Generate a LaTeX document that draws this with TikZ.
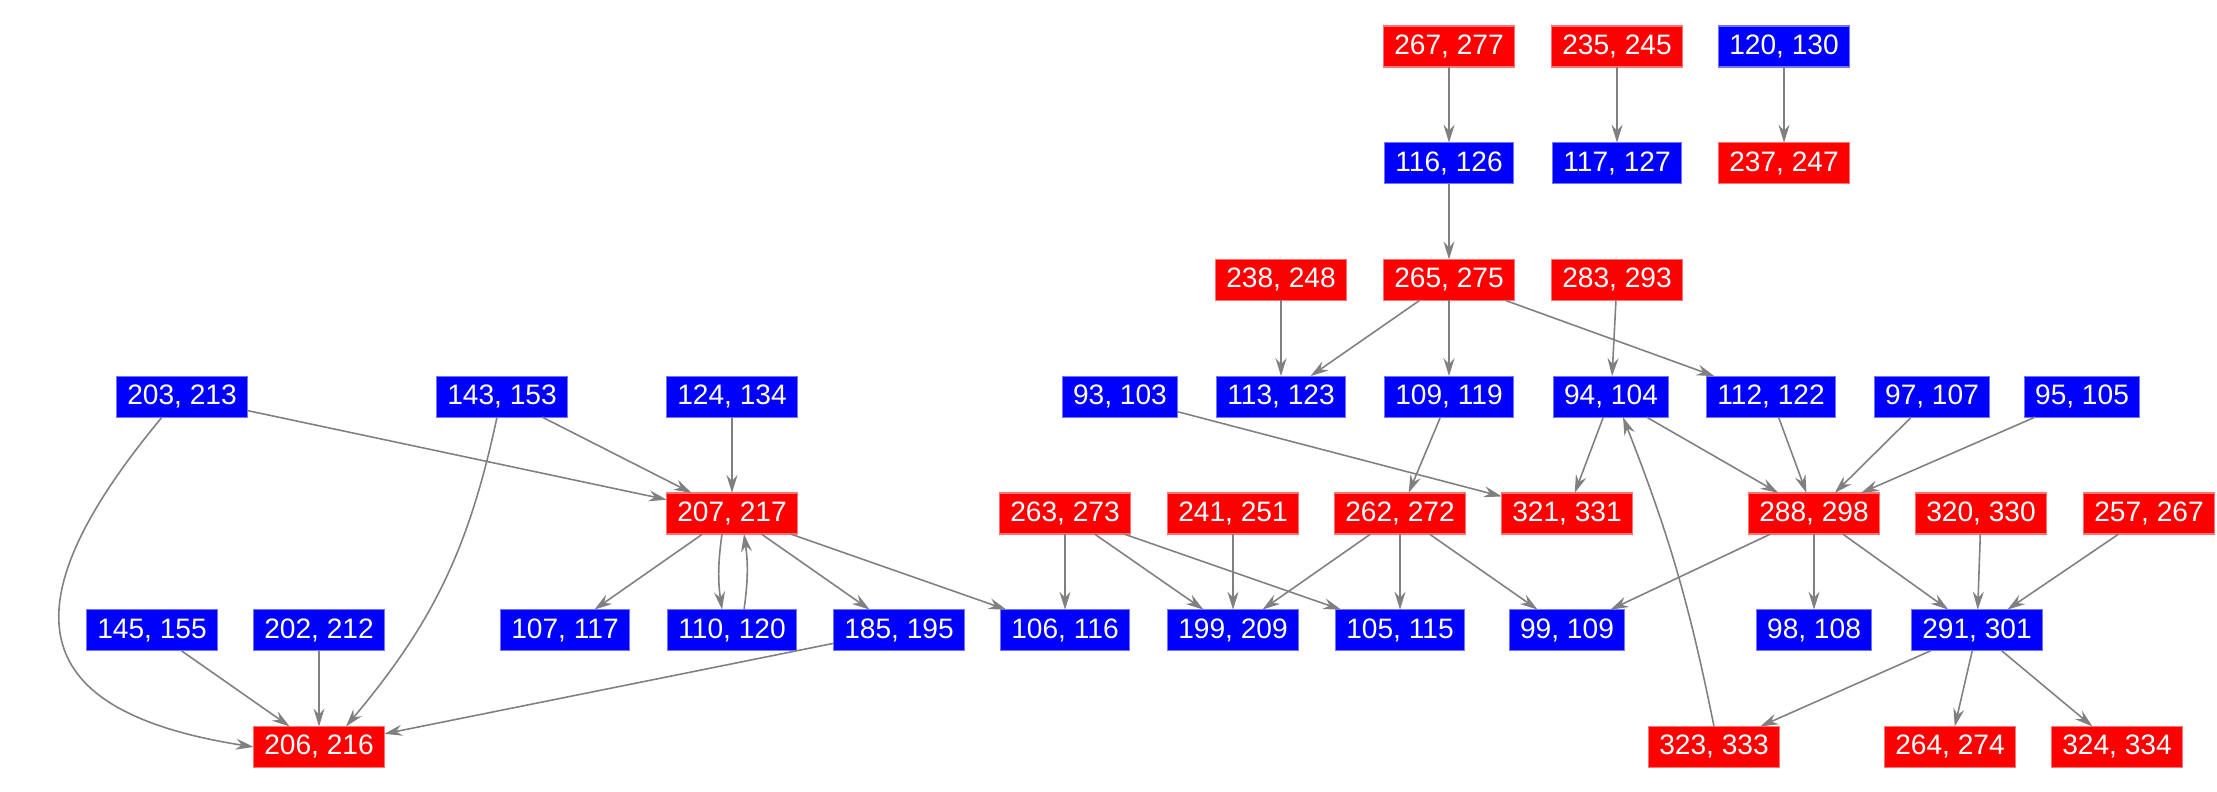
\documentclass[tikz,border=0pt]{standalone}
\usepackage{fontspec}
\setmainfont{Liberation Sans}
\usepackage{tikz}
\usetikzlibrary{arrows.meta}
\definecolor{nodered}{RGB}{255,0,0}
\definecolor{nodeblue}{RGB}{0,0,255}
\definecolor{edgegray}{RGB}{128,128,128}
\tikzset{
  vertex/.style={inner xsep=3pt, inner ysep=0pt, outer sep=0pt,
                 minimum height=4.1mm, text height=2mm, text depth=0.4mm,
                 line width=0.3pt, text=white,
                 font=\fontsize{8}{9.6}\selectfont},
  redbox/.style={vertex, fill=nodered, draw=nodered!55!white},
  bluebox/.style={vertex, fill=nodeblue, draw=nodeblue!55!white},
  flow/.style={draw=edgegray, line width=0.45pt,
               -{Stealth[length=1.8mm,width=1.1mm,inset=0.6mm]}},
}

\begin{document}
\begin{tikzpicture}[x=1cm,y=1cm]
  \path[use as bounding box] (0,0) rectangle (22.17,7.92);

  % Top rows.
  \node[redbox]  (N267) at (14.49,7.455) {267, 277};
  \node[redbox]  (N235) at (16.17,7.455) {235, 245};
  \node[bluebox] (N120) at (17.84,7.455) {120, 130};
  \node[bluebox] (N116) at (14.49,6.288) {116, 126};
  \node[bluebox] (N117) at (16.17,6.288) {117, 127};
  \node[redbox]  (N237) at (17.84,6.288) {237, 247};
  \node[redbox]  (N238) at (12.81,5.120) {238, 248};
  \node[redbox]  (N265) at (14.49,5.120) {265, 275};
  \node[redbox]  (N283) at (16.17,5.120) {283, 293};

  % Middle row of sources.
  \node[bluebox] (N203) at (1.82,3.953) {203, 213};
  \node[bluebox] (N143) at (5.02,3.953) {143, 153};
  \node[bluebox] (N124) at (7.32,3.953) {124, 134};
  \node[bluebox] (N93)  at (11.20,3.953) {93, 103};
  \node[bluebox] (N113) at (12.81,3.953) {113, 123};
  \node[bluebox] (N109) at (14.49,3.953) {109, 119};
  \node[bluebox] (N94)  at (16.11,3.953) {94, 104};
  \node[bluebox] (N112) at (17.71,3.953) {112, 122};
  \node[bluebox] (N97)  at (19.32,3.953) {97, 107};
  \node[bluebox] (N95)  at (20.82,3.953) {95, 105};

  \node[redbox]  (N207) at (7.32,2.785) {207, 217};
  \node[redbox]  (N263) at (10.65,2.785) {263, 273};
  \node[redbox]  (N241) at (12.33,2.785) {241, 251};
  \node[redbox]  (N262) at (14.00,2.785) {262, 272};
  \node[redbox]  (N321) at (15.67,2.785) {321, 331};
  \node[redbox]  (N288) at (18.14,2.785) {288, 298};
  \node[redbox]  (N320) at (19.81,2.785) {320, 330};
  \node[redbox]  (N257) at (21.49,2.785) {257, 267};

  % Lower rows.
  \node[bluebox] (N145) at (1.52,1.618) {145, 155};
  \node[bluebox] (N202) at (3.19,1.618) {202, 212};
  \node[bluebox] (N107) at (5.65,1.618) {107, 117};
  \node[bluebox] (N110) at (7.32,1.618) {110, 120};
  \node[bluebox] (N185) at (8.99,1.618) {185, 195};
  \node[bluebox] (N106) at (10.65,1.618) {106, 116};
  \node[bluebox] (N199) at (12.33,1.618) {199, 209};
  \node[bluebox] (N105) at (14.00,1.618) {105, 115};
  \node[bluebox] (N99)  at (15.67,1.618) {99, 109};
  \node[bluebox] (N98)  at (18.14,1.618) {98, 108};
  \node[bluebox] (N291) at (19.77,1.618) {291, 301};

  \node[redbox]  (N206) at (3.19,0.45) {206, 216};
  \node[redbox]  (N323) at (17.14,0.45) {323, 333};
  \node[redbox]  (N264) at (19.50,0.45) {264, 274};
  \node[redbox]  (N324) at (21.17,0.45) {324, 334};

  % Edges.
  \draw[flow] (N267) -- (N116);
  \draw[flow] (N235) -- (N117);
  \draw[flow] (N120) -- (N237);
  \draw[flow] (N116) -- (N265);
  \draw[flow] (N238) -- (N113);
  \draw[flow] (N265) -- (N113);
  \draw[flow] (N265) -- (N109);
  \draw[flow] (N265) -- (N112);
  \draw[flow] (N283) -- (N94);

  \draw[flow] (N203) -- (N207);
  \draw[flow] ([xshift=-2mm]N203.south) .. controls (0.0,1.8) and (0.3,0.8) .. (N206.west);
  \draw[flow] (N143) -- (N207);
  \draw[flow] ([xshift=-0.5mm]N143.south) to[bend left=14] ([xshift=2.7mm]N206.north);
  \draw[flow] (N124) -- (N207);
  \draw[flow] (N93) -- (N321);
  \draw[flow] (N109) -- (N262);
  \draw[flow] (N94) -- (N321);
  \draw[flow] (N94) -- (N288);
  \draw[flow] (N112) -- (N288);
  \draw[flow] (N97) -- (N288);
  \draw[flow] (N95) -- (N288);

  \draw[flow] (N207) -- (N107);
  \draw[flow] ([xshift=-1mm]N207.south) to[bend right=8] ([xshift=-1mm]N110.north);
  \draw[flow] ([xshift=1.2mm]N110.north) to[bend right=8] ([xshift=1.2mm]N207.south);
  \draw[flow] (N207) -- (N185);
  \draw[flow] (N207) -- (N106);
  \draw[flow] (N263) -- (N106);
  \draw[flow] (N263) -- (N199);
  \draw[flow] (N263) -- (N105);
  \draw[flow] (N241) -- (N199);
  \draw[flow] (N262) -- (N199);
  \draw[flow] (N262) -- (N105);
  \draw[flow] (N262) -- (N99);
  \draw[flow] (N288) -- (N99);
  \draw[flow] (N288) -- (N98);
  \draw[flow] (N288) -- (N291);
  \draw[flow] (N320) -- (N291);
  \draw[flow] (N257) -- (N291);

  \draw[flow] (N145) -- (N206);
  \draw[flow] (N202) -- (N206);
  \draw[flow] (N185) -- (N206);
  \draw[flow] (N291) -- (N323);
  \draw[flow] (N291) -- (N264);
  \draw[flow] (N291) -- (N324);
  \draw[flow] (N323.north) to[bend right=5] ([xshift=1.2mm]N94.south);
\end{tikzpicture}
\end{document}
